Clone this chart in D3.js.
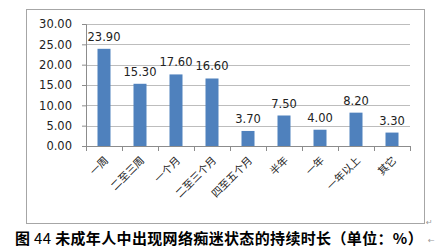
<!DOCTYPE html>
<html>
<head>
<meta charset="utf-8">
<script src="https://cdn.jsdelivr.net/npm/d3@7"></script>
<style>
  body { margin: 0; background: #fff; }
  svg { display: block; }
</style>
</head>
<body>
<div id="chart"></div>
<script>
// categories and values
const categories = ['一周', '二至三周', '一个月', '二至三个月', '四至五个月', '半年', '一年', '一年以上', '其它'];
const values = [23.90, 15.30, 17.60, 16.60, 3.70, 7.50, 4.00, 8.20, 3.30];
const yTicks = [0, 5, 10, 15, 20, 25, 30];
const titleParts = [
  { t: '图', w: 'bold' },
  { t: ' 44 ', w: 'normal' },
  { t: '未成年人中出现网络痴迷状态的持续时长（单位：%）', w: 'bold' }
];

const W = 446, H = 248;
const margin = { top: 24, left: 86 };
const width = 410 - margin.left, height = 146 - margin.top;

const svg = d3.select('#chart').append('svg')
  .attr('width', W)
  .attr('height', H);

// outer chart frame
svg.append('rect')
  .attr('x', 26.5).attr('y', 9.5)
  .attr('width', 398).attr('height', 214)
  .attr('fill', '#fff')
  .attr('stroke', '#a6a6a6');

const g = svg.append('g')
  .attr('transform', `translate(${margin.left},${margin.top})`);

const xb = d3.scaleBand().domain(categories).range([0, width]);
const y = d3.scaleLinear().domain([0, 30]).range([height, 0]);

// gridlines
g.selectAll('.grid')
  .data(yTicks.slice(1))
  .enter().append('line')
  .attr('x1', 0).attr('x2', width)
  .attr('y1', d => Math.round(y(d)) + 0.5).attr('y2', d => Math.round(y(d)) + 0.5)
  .attr('stroke', '#bdbdbd');

// y axis
const yAxis = g.append('g')
  .call(d3.axisLeft(y).tickValues(yTicks).tickFormat(d3.format('.2f')).tickSize(4).tickPadding(10));
yAxis.select('.domain').attr('stroke', '#8c8c8c');
yAxis.selectAll('.tick line').attr('stroke', '#8c8c8c');
yAxis.selectAll('text')
  .attr('fill', '#222')
  .style('font-family', 'Verdana, "DejaVu Sans", sans-serif')
  .style('font-size', '11.5px');

// bars
g.selectAll('.bar')
  .data(values)
  .enter().append('rect')
  .attr('x', (d, i) => xb(categories[i]) + xb.bandwidth() / 2 - 6.5)
  .attr('y', d => y(d))
  .attr('width', 13)
  .attr('height', d => height - y(d))
  .attr('fill', '#4f81bd');

// value labels
g.selectAll('.val')
  .data(values)
  .enter().append('text')
  .attr('x', (d, i) => xb(categories[i]) + xb.bandwidth() / 2)
  .attr('y', d => y(d) - 8)
  .attr('text-anchor', 'middle')
  .attr('fill', '#222')
  .style('font-family', 'Verdana, "DejaVu Sans", sans-serif')
  .style('font-size', '11.5px')
  .text(d => d3.format('.2f')(d));

// x axis line with category ticks
const xAxisG = g.append('g').attr('transform', `translate(0,${height})`);
xAxisG.append('line')
  .attr('x1', 0).attr('x2', width)
  .attr('y1', 0.5).attr('y2', 0.5)
  .attr('stroke', '#8c8c8c');
xAxisG.selectAll('.xt')
  .data(categories.concat(['end']))
  .enter().append('line')
  .attr('x1', (d, i) => Math.round(i * xb.bandwidth()) + 0.5)
  .attr('x2', (d, i) => Math.round(i * xb.bandwidth()) + 0.5)
  .attr('y1', 0).attr('y2', 5)
  .attr('stroke', '#8c8c8c');

// rotated category labels
xAxisG.selectAll('.xl')
  .data(categories)
  .enter().append('text')
  .attr('transform', d => `translate(${xb(d) + xb.bandwidth() / 2 + 5},${15}) rotate(-45)`)
  .attr('text-anchor', 'end')
  .attr('fill', '#222')
  .style('font-family', '"Noto Sans CJK SC", sans-serif')
  .style('font-size', '10.5px')
  .text(d => d);

// paragraph marks from the source document
svg.append('text')
  .attr('x', 426).attr('y', 225)
  .attr('fill', '#999')
  .style('font-size', '8px')
  .style('font-family', '"DejaVu Sans", sans-serif')
  .text('↵');

// caption
const cap = svg.append('text')
  .attr('x', 15).attr('y', 244)
  .attr('fill', '#000')
  .style('font-family', '"Noto Sans CJK SC", sans-serif')
  .style('font-size', '15px')
  .style('letter-spacing', '0.35px');
cap.selectAll('tspan')
  .data(titleParts)
  .enter().append('tspan')
  .style('font-weight', d => d.w)
  .text(d => d.t);

svg.append('text')
  .attr('x', 428).attr('y', 243)
  .attr('fill', '#999')
  .style('font-size', '8px')
  .style('font-family', '"DejaVu Sans", sans-serif')
  .text('←');
</script>
</body>
</html>
